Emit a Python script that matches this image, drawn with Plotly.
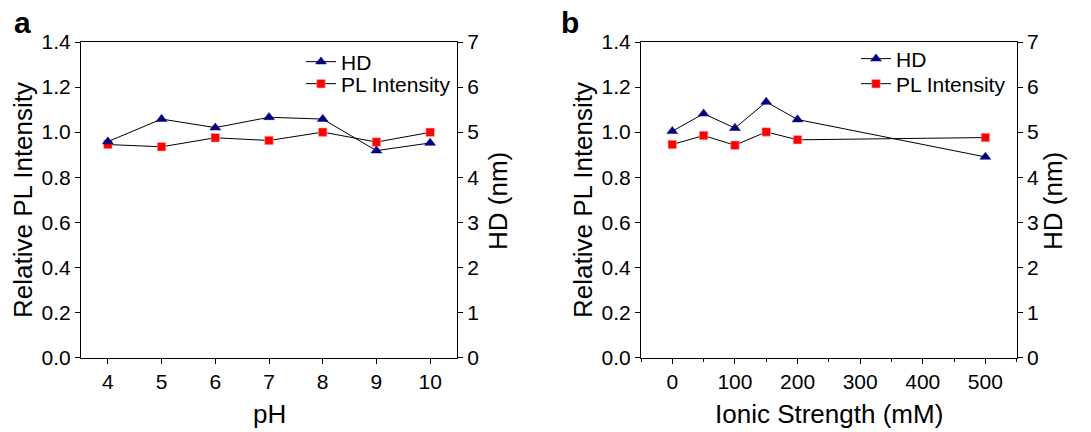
import plotly.graph_objects as go

# ---- data ----
ph = [4, 5, 6, 7, 8, 9, 10]
hd_ph = [4.79, 5.29, 5.10, 5.33, 5.29, 4.59, 4.76]
pl_ph = [0.945, 0.935, 0.975, 0.963, 1.000, 0.956, 0.999]

ionic = [0, 50, 100, 150, 200, 500]
hd_ionic = [5.02, 5.41, 5.09, 5.67, 5.28, 4.45]
pl_ionic = [0.945, 0.985, 0.942, 1.001, 0.966, 0.976]

W, H = 1091, 432
FONT = "Liberation Sans, Arial, sans-serif"
NAVY = "#000080"
RED = "#FF0000"

def px(x):
    return x / W

def py(y):
    return 1 - y / H

fig = go.Figure()

line_style = dict(color="black", width=1)
tri = dict(symbol="triangle-up", size=9.5, color=NAVY, line=dict(color=NAVY, width=0.5))
sq = dict(symbol="square", size=8.5, color=RED, line=dict(color="#ffb0b0", width=0.6))

fig.add_trace(go.Scatter(x=ph, y=hd_ph, name="HD", mode="lines+markers",
                         line=line_style, marker=tri, xaxis="x", yaxis="y2", legend="legend"))
fig.add_trace(go.Scatter(x=ph, y=pl_ph, name="PL Intensity", mode="lines+markers",
                         line=line_style, marker=sq, xaxis="x", yaxis="y", legend="legend2"))
fig.add_trace(go.Scatter(x=ionic, y=hd_ionic, name="HD", mode="lines+markers",
                         line=line_style, marker=tri, xaxis="x2", yaxis="y4", legend="legend3"))
fig.add_trace(go.Scatter(x=ionic, y=pl_ionic, name="PL Intensity", mode="lines+markers",
                         line=line_style, marker=sq, xaxis="x2", yaxis="y3", legend="legend4"))

ydom = [py(357.5), py(42)]
tickfont = dict(family=FONT, size=21, color="black")
axis_common = dict(showgrid=False, zeroline=False, showline=True, linecolor="black",
                   linewidth=1, ticks="outside", ticklen=5, tickwidth=1, tickcolor="black",
                   tickfont=tickfont, automargin=False)

fig.update_layout(
    template="none",
    width=W, height=H,
    margin=dict(l=0, r=0, t=0, b=0, autoexpand=False),
    paper_bgcolor="white", plot_bgcolor="white",
    font=dict(family=FONT, color="black"),
    xaxis=dict(domain=[px(81), px(457)], range=[3.5, 10.5], dtick=1, tick0=0,
               anchor="y", mirror=True, **axis_common),
    yaxis=dict(domain=ydom, range=[0, 1.4], dtick=0.2, tick0=0, tickformat=".1f",
               anchor="x", **axis_common),
    yaxis2=dict(range=[0, 7], dtick=1, tick0=0, overlaying="y", side="right",
                anchor="x", **axis_common),
    xaxis2=dict(domain=[px(641), px(1016.7)], range=[-50, 550], dtick=100, tick0=0,
                anchor="y3", mirror=True,
                minor=dict(dtick=50, tick0=0, ticks="outside", ticklen=3, tickcolor="black"),
                **axis_common),
    yaxis3=dict(domain=ydom, range=[0, 1.4], dtick=0.2, tick0=0, tickformat=".1f",
                anchor="x2", **axis_common),
    yaxis4=dict(range=[0, 7], dtick=1, tick0=0, overlaying="y3", side="right",
                anchor="x2", **axis_common),
    showlegend=True,
)

legfont = dict(family=FONT, size=21, color="black")
leg_common = dict(font=legfont, bgcolor="rgba(0,0,0,0)", borderwidth=0,
                  xanchor="left", yanchor="middle", itemwidth=30,
                  xref="paper", yref="paper")
fig.update_layout(
    legend=dict(x=px(301), y=py(62), **leg_common),
    legend2=dict(x=px(301), y=py(84), **leg_common),
    legend3=dict(x=px(856), y=py(59), **leg_common),
    legend4=dict(x=px(856), y=py(84), **leg_common),
)

titlefont = dict(family=FONT, size=26, color="black")
ann = [
    dict(text="Relative PL Intensity", x=px(23), y=py(200), textangle=-90),
    dict(text="HD (nm)", x=px(498), y=py(201), textangle=-90),
    dict(text="pH", x=px(269), y=py(414), textangle=0),
    dict(text="Relative PL Intensity", x=px(583), y=py(200), textangle=-90),
    dict(text="HD (nm)", x=px(1053), y=py(201), textangle=-90),
    dict(text="Ionic Strength (mM)", x=px(829), y=py(414), textangle=0),
]
for a in ann:
    fig.add_annotation(xref="paper", yref="paper", showarrow=False,
                       xanchor="center", yanchor="middle", font=titlefont, **a)

for lab, x in (("a", 22), ("b", 570)):
    fig.add_annotation(text="<b>%s</b>" % lab, xref="paper", yref="paper",
                       x=px(x), y=py(22), showarrow=False, xanchor="center",
                       yanchor="middle", font=dict(family=FONT, size=30, color="black"))

fig.write_html("out.html", config={"displayModeBar": False},
               post_script="document.body.style.margin='0';document.body.style.overflow='hidden';")
